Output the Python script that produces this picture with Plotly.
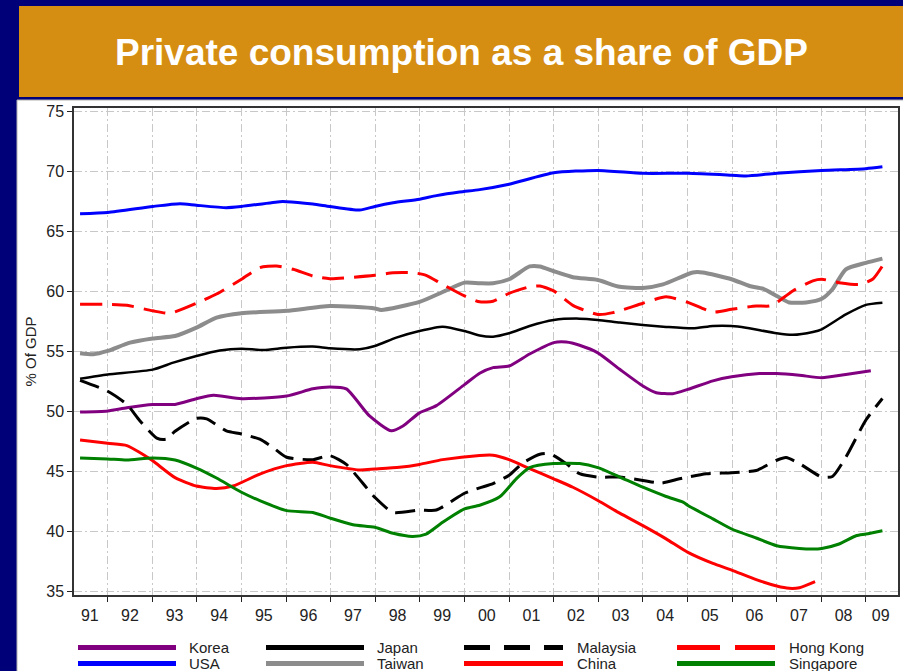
import plotly.graph_objects as go

# ---------------- data ----------------
korea_x = [1991.38, 1992.0, 1992.43, 1993.01, 1993.51, 1993.99, 1994.37, 1995.0, 1996.01, 1996.6, 1996.98, 1997.35,
           1997.87, 1998.36, 1998.62, 1998.99, 1999.37, 2000.0, 2000.34, 2000.64, 2001.0, 2001.46, 2002.0, 2002.28,
           2002.58, 2002.99, 2003.48, 2004.0, 2004.3, 2004.67, 2005.01, 2005.57, 2005.99, 2006.61, 2007.0, 2007.51,
           2008.01, 2008.55, 2009.11]
korea_y = [49.97, 50.06, 50.33, 50.6, 50.6, 51.08, 51.36, 51.08, 51.3, 51.9, 52.06, 51.9,
           49.64, 48.4, 48.8, 49.9, 50.5, 52.25, 53.2, 53.67, 53.8, 54.8, 55.75, 55.8,
           55.53, 54.9, 53.53, 52.14, 51.58, 51.5, 51.86, 52.56, 52.9, 53.17, 53.17, 53.03,
           52.83, 53.1, 53.4]

usa_x = [1991.38, 1992.0, 1993.01, 1993.62, 1993.99, 1994.66, 1995.0, 1995.86, 1996.01, 1996.6, 1996.98, 1997.65,
         1997.99, 1998.4, 1998.99, 1999.37, 1999.89, 2000.34, 2001.0, 2002.0, 2002.99, 2004.0, 2005.01, 2005.99,
         2006.31, 2007.0, 2008.01, 2009.0, 2009.37]
usa_y = [66.5, 66.6, 67.1, 67.33, 67.2, 67.0, 67.1, 67.5, 67.5, 67.3, 67.1, 66.8,
         67.1, 67.4, 67.7, 68.0, 68.3, 68.5, 68.95, 69.9, 70.1, 69.86, 69.86, 69.7,
         69.64, 69.86, 70.1, 70.25, 70.4]

japan_x = [1991.38, 1992.0, 1993.01, 1993.47, 1993.99, 1994.51, 1995.0, 1995.49, 1996.01, 1996.6, 1996.98, 1997.65,
           1997.99, 1998.47, 1998.99, 1999.51, 2000.0, 2000.34, 2000.64, 2001.0, 2001.46, 2002.0, 2002.58, 2002.99,
           2003.48, 2004.0, 2004.52, 2005.12, 2005.57, 2005.99, 2006.31, 2007.0, 2007.36, 2007.81, 2008.01, 2008.55,
           2009.0, 2009.37]
japan_y = [52.75, 53.1, 53.5, 54.08, 54.64, 55.1, 55.25, 55.14, 55.33, 55.42, 55.28, 55.2,
           55.47, 56.17, 56.72, 57.08, 56.72, 56.35, 56.25, 56.53, 57.14, 57.64, 57.75, 57.64,
           57.42, 57.22, 57.06, 56.94, 57.14, 57.14, 57.0, 56.53, 56.4, 56.64, 56.86, 58.1,
           58.9, 59.08]

taiwan_x = [1991.38, 1991.68, 1992.0, 1992.5, 1993.01, 1993.51, 1993.99, 1994.44, 1995.0, 1996.01, 1996.98, 1997.99,
            1998.13, 1998.99, 1999.51, 2000.0, 2000.34, 2000.64, 2001.0, 2001.46, 2001.69, 2002.0, 2002.43, 2002.99,
            2003.48, 2004.0, 2004.45, 2005.12, 2005.34, 2005.99, 2006.39, 2006.69, 2007.0, 2007.28, 2007.66, 2008.01,
            2008.25, 2008.55, 2009.0, 2009.37]
taiwan_y = [54.86, 54.78, 55.06, 55.75, 56.1, 56.3, 57.0, 57.83, 58.2, 58.4, 58.8, 58.6,
            58.47, 59.14, 59.97, 60.75, 60.7, 60.7, 61.03, 62.1, 62.1, 61.7, 61.2, 60.97,
            60.4, 60.3, 60.6, 61.6, 61.6, 61.03, 60.47, 60.25, 59.64, 59.1, 59.1, 59.4,
            60.2, 61.86, 62.4, 62.75]

malaysia_x = [1991.38, 1992.0, 1992.43, 1992.72, 1993.1, 1993.31, 1993.51, 1993.99, 1994.22, 1994.66, 1995.0, 1995.41,
              1995.71, 1996.01, 1996.6, 1996.98, 1997.35, 1997.99, 1998.4, 1998.99, 1999.37, 2000.0, 2000.34, 2000.64,
              2001.0, 2001.31, 2001.69, 2001.91, 2002.28, 2002.58, 2002.99, 2003.48, 2004.0, 2004.41, 2004.82, 2005.42,
              2005.99, 2006.54, 2007.0, 2007.21, 2007.51, 2008.01, 2008.25, 2008.55, 2009.0, 2009.37]
malaysia_y = [52.6, 51.7, 50.6, 49.25, 47.8, 47.7, 48.36, 49.44, 49.4, 48.4, 48.14, 47.7,
              47.0, 46.2, 46.0, 46.33, 45.6, 42.86, 41.6, 41.8, 41.8, 43.2, 43.65, 44.0,
              44.7, 45.73, 46.45, 46.5, 45.67, 44.83, 44.55, 44.55, 44.27, 44.05, 44.4, 44.83,
              44.9, 45.1, 45.95, 46.17, 45.67, 44.55, 44.6, 46.2, 49.3, 51.1]

china_x = [1991.38, 1992.0, 1992.43, 1992.72, 1993.01, 1993.51, 1993.99, 1994.44, 1994.81, 1995.41, 1996.01, 1996.6,
           1996.98, 1997.65, 1997.99, 1998.54, 1998.99, 1999.51, 2000.34, 2000.64, 2001.0, 2001.46, 2002.0, 2002.43,
           2002.99, 2003.48, 2004.0, 2004.52, 2005.01, 2005.57, 2005.99, 2006.54, 2007.0, 2007.28, 2007.51, 2007.86]
china_y = [47.64, 47.36, 47.17, 46.6, 45.9, 44.5, 43.8, 43.6, 43.8, 44.8, 45.5, 45.78,
           45.5, 45.14, 45.22, 45.36, 45.6, 46.0, 46.35, 46.37, 46.0, 45.25, 44.4, 43.7,
           42.6, 41.54, 40.5, 39.4, 38.27, 37.35, 36.8, 36.0, 35.47, 35.28, 35.33, 35.84]

hongkong_x = [1991.38, 1992.0, 1992.43, 1993.01, 1993.4, 1993.99, 1994.44, 1995.0, 1995.41, 1995.78, 1996.16, 1996.6,
              1996.98, 1997.99, 1998.4, 1998.84, 1999.14, 1999.51, 2000.0, 2000.34, 2000.64, 2001.0, 2001.46, 2001.69,
              2002.0, 2002.43, 2002.99, 2003.33, 2004.0, 2004.52, 2005.01, 2005.57, 2005.99, 2006.54, 2006.84, 2007.0,
              2007.36, 2007.81, 2008.01, 2008.4, 2008.85, 2009.15, 2009.37]
hongkong_y = [58.94, 58.94, 58.86, 58.4, 58.2, 59.03, 59.8, 61.03, 62.0, 62.14, 61.86, 61.3,
              61.08, 61.36, 61.58, 61.58, 61.36, 60.6, 59.64, 59.15, 59.2, 59.86, 60.4, 60.47,
              60.06, 58.86, 58.1, 58.25, 59.03, 59.58, 59.1, 58.3, 58.53, 58.8, 58.8, 59.1,
              60.06, 60.9, 61.03, 60.75, 60.6, 61.03, 62.14]

singapore_x = [1991.38, 1992.0, 1992.43, 1993.01, 1993.51, 1993.99, 1994.44, 1995.0, 1995.41, 1996.01, 1996.6, 1996.98,
               1997.5, 1997.99, 1998.4, 1998.84, 1999.14, 1999.51, 2000.0, 2000.34, 2000.79, 2001.16, 2001.46, 2002.0,
               2002.58, 2002.99, 2003.48, 2004.0, 2004.52, 2004.9, 2005.01, 2005.57, 2005.99, 2006.54, 2007.0, 2007.51,
               2007.81, 2008.01, 2008.4, 2008.78, 2009.0, 2009.37]
singapore_y = [46.14, 46.06, 45.97, 46.14, 45.97, 45.3, 44.47, 43.28, 42.58, 41.75, 41.6, 41.14,
               40.58, 40.36, 39.86, 39.6, 39.8, 40.78, 41.9, 42.2, 42.9, 44.4, 45.33, 45.67,
               45.67, 45.33, 44.55, 43.7, 42.93, 42.46, 42.18, 41.06, 40.22, 39.47, 38.83, 38.6,
               38.55, 38.6, 38.97, 39.66, 39.8, 40.08]

years = list(range(1991, 2010))
year_labels = ["91", "92", "93", "94", "95", "96", "97", "98", "99", "00",
               "01", "02", "03", "04", "05", "06", "07", "08", "09"]

title_text = "Private consumption as a share of GDP"
y_title = "% Of GDP"

# ---------------- styling ----------------
FONT = "Liberation Sans, Arial, sans-serif"
series = [
    ("Korea", korea_x, korea_y, "#800080", 3, "solid"),
    ("Japan", japan_x, japan_y, "#000000", 2.5, "solid"),
    ("Malaysia", malaysia_x, malaysia_y, "#000000", 3, "20px,9px"),
    ("Hong Kong", hongkong_x, hongkong_y, "#FF0000", 3, "22px,10px"),
    ("USA", usa_x, usa_y, "#0000FF", 3, "solid"),
    ("Taiwan", taiwan_x, taiwan_y, "#8C8C8C", 4, "solid"),
    ("China", china_x, china_y, "#FF0000", 3, "solid"),
    ("Singapore", singapore_x, singapore_y, "#008000", 3, "solid"),
]

fig = go.Figure()
draw_order = ["Taiwan", "Japan", "Korea", "Malaysia", "China", "Singapore", "Hong Kong", "USA"]
lookup = {s[0]: s for s in series}
for name in draw_order:
    n, xs, ys, col, w, dash = lookup[name]
    fig.add_trace(go.Scatter(x=xs, y=ys, mode="lines", name=n,
                             line=dict(color=col, width=w, dash=dash, shape="spline", smoothing=0.6),
                             showlegend=False))

# plot area geometry (pixels)
L, R, T, B = 74, 5, 108, 76
W, H = 903, 671
pw, ph = W - L - R, H - T - B
px_per_year = 44.6
x0 = 1992 - 33.7 / px_per_year
x1 = x0 + pw / px_per_year
y0 = 34.72
y1 = y0 + ph / 12.0

def px2paper_x(px):
    return (px - L) / pw

def px2paper_y(py):
    return (H - B - py) / ph

# tick label positions: centred in each year, ends kept inside the axis
tickvals = [y + 0.5 for y in years]
tickvals[0] = 1991.6
tickvals[-1] = 2009.33

shapes = []
# white chart panel
shapes.append(dict(type="rect", xref="paper", yref="paper",
                   x0=px2paper_x(17), x1=px2paper_x(905), y0=px2paper_y(673), y1=px2paper_y(100),
                   fillcolor="white", line=dict(color="#B0B0B0", width=1), layer="below"))
# orange title band
shapes.append(dict(type="rect", xref="paper", yref="paper",
                   x0=px2paper_x(19), x1=px2paper_x(905), y0=px2paper_y(97), y1=px2paper_y(6),
                   fillcolor="#D68E12", line=dict(width=0), layer="below"))

annotations = [dict(text=title_text, xref="paper", yref="paper", x=px2paper_x(461), y=px2paper_y(52),
                    xanchor="center", yanchor="middle", showarrow=False,
                    font=dict(family=FONT, size=37, color="white", weight="bold"))]

# legend drawn below the plot (two rows of four)
legend_layout = [
    ("Korea", 78, 176, 187, 647.5), ("Japan", 266, 364, 375, 647.5),
    ("Malaysia", 464, 563, 575, 647.5), ("Hong Kong", 677, 775, 787, 647.5),
    ("USA", 78, 176, 187, 663.5), ("Taiwan", 266, 364, 375, 663.5),
    ("China", 464, 563, 575, 663.5), ("Singapore", 677, 775, 787, 663.5),
]
legend_dash = {"Malaysia": "26px,14px", "Hong Kong": "43px,15px"}
for name, lx0, lx1, tx, ly in legend_layout:
    col = lookup[name][3]
    shapes.append(dict(type="line", xref="paper", yref="paper",
                       x0=px2paper_x(lx0), x1=px2paper_x(lx1), y0=px2paper_y(ly), y1=px2paper_y(ly),
                       line=dict(color=col, width=5, dash=legend_dash.get(name, "solid"))))
    annotations.append(dict(text=name, xref="paper", yref="paper", x=px2paper_x(tx), y=px2paper_y(ly),
                            xanchor="left", yanchor="middle", showarrow=False,
                            font=dict(family=FONT, size=15, color="#222222")))

grid_dash = "8px,3px,2px,3px"
fig.update_layout(
    width=W, height=H,
    margin=dict(l=L, r=R, t=T, b=B, pad=0, autoexpand=False),
    paper_bgcolor="#000078",
    plot_bgcolor="white",
    showlegend=False,
    shapes=shapes,
    annotations=annotations,
    font=dict(family=FONT, color="#222222"),
    xaxis=dict(range=[x0, x1], tickmode="array", tickvals=tickvals, ticktext=year_labels,
               ticks="outside", ticklen=5, tickcolor="rgba(0,0,0,0)", showgrid=False, zeroline=False,
               automargin=False,
               tickfont=dict(size=16, color="#222222"),
               showline=True, linecolor="#333333", linewidth=1.5, mirror=True,
               minor=dict(tick0=1992, dtick=1, ticks="outside", ticklen=5, tickcolor="#222222",
                          showgrid=True, gridcolor="#C8C8C8", gridwidth=1, griddash=grid_dash)),
    yaxis=dict(range=[y0, y1], tickmode="linear", tick0=35, dtick=5,
               ticks="outside", ticklen=5, tickcolor="#222222",
               showgrid=True, gridcolor="#C8C8C8", gridwidth=1, griddash=grid_dash, zeroline=False,
               automargin=False,
               tickfont=dict(size=16, color="#222222"),
               showline=True, linecolor="#333333", linewidth=1.5, mirror=True,
               title=dict(text=y_title, font=dict(size=15, color="#222222"), standoff=6)),
)

fig.write_html("out.html", config={"displayModeBar": False},
               post_script="document.body.style.margin='0';document.body.style.overflow='hidden';")
